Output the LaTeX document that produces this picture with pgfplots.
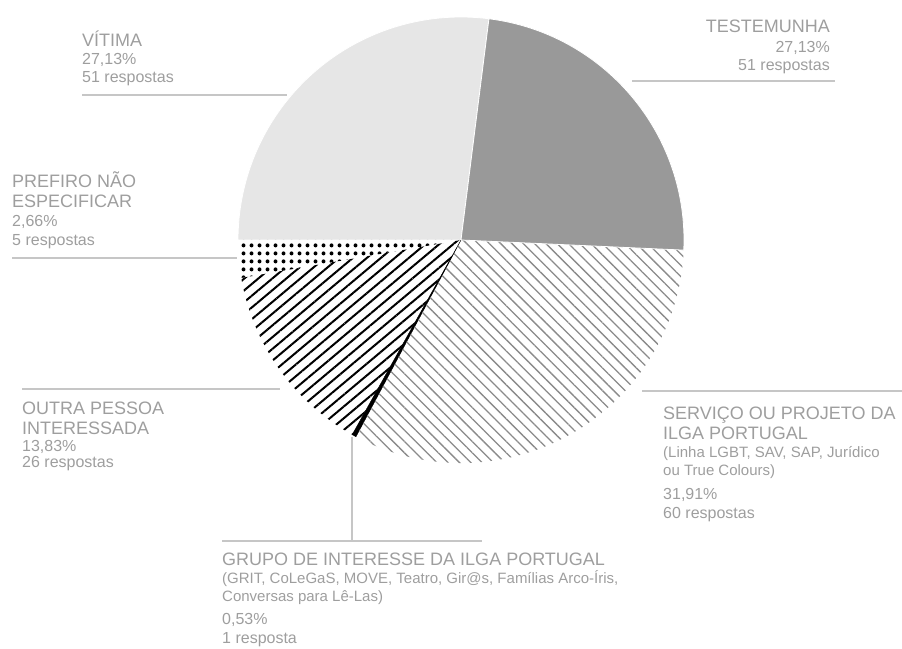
\documentclass[border=0pt]{standalone}
\usepackage{fontspec}
\setmainfont{Liberation Sans}
\usepackage{pgfplots}
\pgfplotsset{compat=1.18}
\usepackage{pgfplotstable}
\usetikzlibrary{patterns,patterns.meta}

\definecolor{txt}{HTML}{9E9E9E}
\definecolor{rulec}{HTML}{C6C6C6}
\definecolor{vit}{HTML}{E6E6E6}
\definecolor{tes}{HTML}{999999}
\definecolor{hatch}{HTML}{8A8A8A}

\pgfdeclarepatternformonly{bigdots}{\pgfqpoint{0pt}{0pt}}{\pgfqpoint{7.5pt}{7.5pt}}{\pgfqpoint{7.5pt}{7.5pt}}{%
  \pgfpathcircle{\pgfqpoint{3.75pt}{3.75pt}}{2.1pt}\pgfusepath{fill}}

\tikzset{
  svit/.style={fill=vit, draw=white, line width=0.8pt},
  spre/.style={pattern=bigdots, pattern color=black},
  sout/.style={pattern={Lines[angle=40, distance=9pt, line width=2pt]}, pattern color=black},
  sgru/.style={fill=black, draw=black, line width=0.4pt},
  sser/.style={pattern={Lines[angle=-45, distance=8pt, line width=1.3pt]}, pattern color=hatch},
  stes/.style={fill=tes, draw=white, line width=0.8pt},
}

% drawn slice size in degrees (counter-clockwise from 82.8 deg)
% respostas: 51, 5, 26, 1, 60, 51
\pgfplotstableread{
sty   deg
svit  97.2
spre  9.8
sout  51.0
sgru  1.1
sser  115.5
stes  85.4
}\slices

\newcommand\lab[5]{\node[anchor=#1, inner sep=0pt, text=txt,
  font=\fontsize{#4}{#4}\selectfont] at (axis cs:#2,#3) {#5};}

\begin{document}
\begin{tikzpicture}
\begin{axis}[x=1pt, y=1pt, xmin=0, xmax=902, ymin=0, ymax=648,
  axis lines=none, clip=false, scale only axis]
  \coordinate (SW) at (rel axis cs:0,0);
  \coordinate (NE) at (rel axis cs:1,1);

  % pie
  \xdef\cur{82.8}
  \foreach \i in {0,...,5}{%
    \pgfplotstablegetelem{\i}{deg}\of\slices \let\d\pgfplotsretval
    \pgfplotstablegetelem{\i}{sty}\of\slices \let\s\pgfplotsretval
    \pgfmathsetmacro\nxt{\cur+\d}
    \pgfmathsetmacro\xs{461+223*cos(\cur)}
    \pgfmathsetmacro\ys{408+223*sin(\cur)}
    \edef\temp{\noexpand\path[\s] (axis cs:461,408) -- (axis cs:\xs,\ys)
      arc[start angle=\cur, end angle=\nxt, radius=223pt] -- cycle;}
    \temp
    \xdef\cur{\nxt}
  }

  % leader lines
  \addplot[rulec, line width=1.3pt, mark=none] coordinates {(82,553) (287,553)};
  \addplot[rulec, line width=1.3pt, mark=none] coordinates {(632,567) (835,567)};
  \addplot[rulec, line width=1.3pt, mark=none] coordinates {(12,390) (237,390)};
  \addplot[rulec, line width=1.3pt, mark=none] coordinates {(22,259) (280,259)};
  \addplot[rulec, line width=1.3pt, mark=none] coordinates {(642,257) (902,257)};
  \addplot[rulec, line width=1.3pt, mark=none] coordinates {(222,107) (482,107)};
  \addplot[rulec, line width=1.3pt, mark=none] coordinates {(352,107) (352,211)};

  % labels
  \lab{base west}{82}{601}{18}{VÍTIMA}
  \lab{base west}{82}{583}{16}{27,13\%}
  \lab{base west}{82}{565}{16}{51 respostas}

  \lab{base east}{830}{615}{18}{TESTEMUNHA}
  \lab{base east}{830}{595}{16}{27,13\%}
  \lab{base east}{830}{577}{16}{51 respostas}

  \lab{base west}{12}{460}{18}{PREFIRO NÃO}
  \lab{base west}{12}{440.5}{18}{ESPECIFICAR}
  \lab{base west}{12}{421}{16}{2,66\%}
  \lab{base west}{12}{402}{16}{5 respostas}

  \lab{base west}{22}{233}{18}{OUTRA PESSOA}
  \lab{base west}{22}{213}{18}{INTERESSADA}
  \lab{base west}{22}{196}{16}{13,83\%}
  \lab{base west}{22}{180}{16}{26 respostas}

  \lab{base west}{663}{228}{18}{SERVIÇO OU PROJETO DA}
  \lab{base west}{663}{208}{18}{ILGA PORTUGAL}
  \lab{base west}{663}{190}{15}{(Linha LGBT, SAV, SAP, Jurídico}
  \lab{base west}{663}{172}{15}{ou True Colours)}
  \lab{base west}{663}{149}{16}{31,91\%}
  \lab{base west}{663}{130}{16}{60 respostas}

  \lab{base west}{222}{83}{18}{GRUPO DE INTERESSE DA ILGA PORTUGAL}
  \lab{base west}{222}{65}{15}{(GRIT, CoLeGaS, MOVE, Teatro, Gir@s, Famílias Arco-Íris,}
  \lab{base west}{222}{47}{15}{Conversas para Lê-Las)}
  \lab{base west}{222}{24}{16}{0,53\%}
  \lab{base west}{222}{5}{16}{1 resposta}
\end{axis}
\pgfresetboundingbox
\path[use as bounding box] (SW) rectangle (NE);
\end{tikzpicture}
\end{document}
